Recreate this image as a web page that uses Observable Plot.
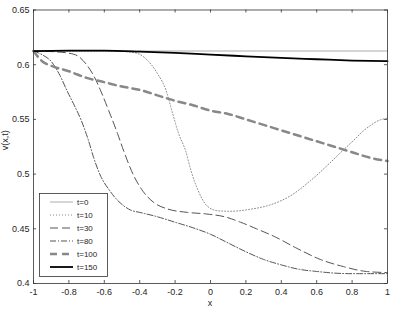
<!DOCTYPE html>
<html><head><meta charset="utf-8">
<script src="https://cdn.jsdelivr.net/npm/d3@7"></script>
<script src="https://cdn.jsdelivr.net/npm/@observablehq/plot@0.6"></script>
<style>body{margin:0;background:#fff}svg{display:block}</style>
</head><body><div id="chart"></div>
<script>
const xTicks = [-1, -0.8, -0.6, -0.4, -0.2, 0, 0.2, 0.4, 0.6, 0.8, 1];
const yTicks = [0.4, 0.45, 0.5, 0.55, 0.6, 0.65];
const seriesNames = ["t=0", "t=10", "t=30", "t=80", "t=100", "t=150"];

const t0 = [[-1, 0.6125], [1, 0.6125]];
const t10 = [[-1, 0.6125], [-0.6, 0.6125], [-0.5, 0.6122], [-0.45, 0.6115], [-0.4, 0.6095], [-0.35, 0.603], [-0.3, 0.592], [-0.25, 0.576], [-0.215, 0.556], [-0.18, 0.537], [-0.14, 0.521], [-0.11, 0.503], [-0.07, 0.485], [-0.02, 0.471], [0.04, 0.4665], [0.11, 0.466], [0.23, 0.468], [0.34, 0.472], [0.45, 0.48], [0.565, 0.494], [0.68, 0.511], [0.75, 0.522], [0.81, 0.531], [0.86, 0.539], [0.9, 0.544], [0.95, 0.549], [1, 0.551]];
const t30 = [[-1, 0.6125], [-0.9, 0.612], [-0.8, 0.6105], [-0.75, 0.608], [-0.7, 0.600], [-0.66, 0.590], [-0.62, 0.576], [-0.575, 0.558], [-0.525, 0.537], [-0.49, 0.521], [-0.435, 0.499], [-0.38, 0.484], [-0.32, 0.474], [-0.24, 0.468], [-0.13, 0.465], [-0.02, 0.4635], [0.08, 0.461], [0.17, 0.456], [0.26, 0.450], [0.36, 0.443], [0.49, 0.432], [0.62, 0.422], [0.75, 0.4155], [0.88, 0.411], [1, 0.410]];
const t80 = [[-1, 0.6125], [-0.95, 0.609], [-0.9, 0.603], [-0.85, 0.590], [-0.81, 0.576], [-0.77, 0.563], [-0.73, 0.549], [-0.69, 0.531], [-0.66, 0.515], [-0.62, 0.498], [-0.57, 0.485], [-0.525, 0.476], [-0.49, 0.471], [-0.45, 0.467], [-0.4, 0.465], [-0.3, 0.461], [-0.2, 0.456], [-0.1, 0.451], [0, 0.445], [0.1, 0.437], [0.2, 0.429], [0.3, 0.422], [0.4, 0.417], [0.5, 0.413], [0.6, 0.411], [0.7, 0.4095], [0.8, 0.409], [1, 0.409]];
const t100 = [[-1, 0.6125], [-0.95, 0.603], [-0.9, 0.599], [-0.8, 0.594], [-0.7, 0.588], [-0.6, 0.584], [-0.5, 0.580], [-0.4, 0.577], [-0.3, 0.572], [-0.2, 0.567], [-0.1, 0.563], [0, 0.558], [0.1, 0.555], [0.2, 0.550], [0.3, 0.545], [0.4, 0.540], [0.5, 0.535], [0.6, 0.530], [0.7, 0.525], [0.8, 0.520], [0.9, 0.515], [1, 0.512]];
const t150 = [[-1, 0.6125], [-0.8, 0.6128], [-0.6, 0.6128], [-0.4, 0.612], [-0.2, 0.6108], [0, 0.6092], [0.2, 0.6077], [0.4, 0.6062], [0.6, 0.605], [0.8, 0.6038], [1, 0.6032]];

const seriesData = [t0, t10, t30, t80, t100, t150];
const styles = [
  {stroke: "#c8c8c8", strokeWidth: 1.5, strokeDasharray: null},
  {stroke: "#888", strokeWidth: 1, strokeDasharray: "1,2"},
  {stroke: "#555", strokeWidth: 1, strokeDasharray: "8,4"},
  {stroke: "#555", strokeWidth: 1, strokeDasharray: "6,2,1,2"},
  {stroke: "#888", strokeWidth: 2.5, strokeDasharray: "7,5"},
  {stroke: "#000", strokeWidth: 1.8, strokeDasharray: null}
];

const W = 398, H = 311, mL = 33, mR = 11, mT = 9.5, mB = 28;
const plotH = H - mT - mB, plotW = W - mL - mR;
const font = "Liberation Sans, Arial, sans-serif";

const lineMarks = seriesData.map((d, i) => Plot.line(d, {
  x: d => d[0], y: d => d[1], curve: "monotone-x",
  stroke: styles[i].stroke, strokeWidth: styles[i].strokeWidth,
  strokeDasharray: styles[i].strokeDasharray
}));

const chart = Plot.plot({
  width: W, height: H,
  marginLeft: mL, marginRight: mR, marginTop: mT, marginBottom: mB,
  style: {fontFamily: font, fontSize: "9px", color: "#262626", background: "#fff"},
  x: {domain: [-1, 1]},
  y: {domain: [0.4, 0.65]},
  marks: [
    Plot.axisX(xTicks, {tickSize: 0, tickPadding: 5, tickFormat: d => String(d), label: null, fill: "#262626"}),
    Plot.axisY(yTicks, {tickSize: 0, tickPadding: 4, tickFormat: d => String(d), label: null, fill: "#262626"}),
    ...lineMarks,
    Plot.tickX(xTicks, {x: d => d, insetTop: plotH - 3, stroke: "#333", strokeWidth: 0.8}),
    Plot.tickX(xTicks, {x: d => d, insetBottom: plotH - 3, stroke: "#333", strokeWidth: 0.8}),
    Plot.tickY(yTicks, {y: d => d, insetRight: plotW - 3, stroke: "#333", strokeWidth: 0.8}),
    Plot.tickY(yTicks, {y: d => d, insetLeft: plotW - 3, stroke: "#333", strokeWidth: 0.8}),
    Plot.frame({stroke: "#333", strokeWidth: 0.8})
  ]
});

const svg = d3.select(chart);
// axis labels
svg.append("text").attr("x", mL + plotW / 2).attr("y", 306).attr("text-anchor", "middle")
  .attr("font-family", font).attr("font-size", 9).attr("fill", "#262626").text("x");
svg.append("text").attr("transform", `translate(8,${mT + plotH / 2 - 6}) rotate(-90)`).attr("text-anchor", "middle")
  .attr("font-family", font).attr("font-size", 9).attr("fill", "#262626").text("v(x,t)");

// legend
const lg = svg.append("g");
lg.append("rect").attr("x", 39.5).attr("y", 193.5).attr("width", 68).attr("height", 83)
  .attr("fill", "#fff").attr("stroke", "#333").attr("stroke-width", 0.8);
seriesNames.forEach((name, i) => {
  const yy = 202 + 13 * i;
  lg.append("line").attr("x1", 50).attr("x2", 73).attr("y1", yy).attr("y2", yy)
    .attr("stroke", styles[i].stroke).attr("stroke-width", styles[i].strokeWidth)
    .attr("stroke-dasharray", styles[i].strokeDasharray);
  lg.append("text").attr("x", 77).attr("y", yy).attr("dy", "0.35em").attr("text-anchor", "start")
    .attr("font-family", font).attr("font-size", 8).attr("fill", "#262626").text(name);
});

document.getElementById("chart").appendChild(chart);
</script>
</body></html>
